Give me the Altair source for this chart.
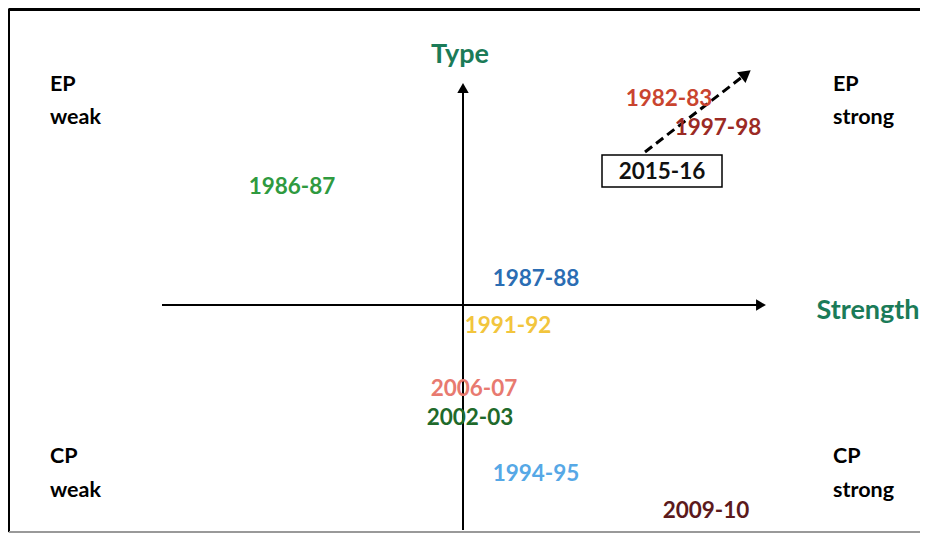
import altair as alt
import pandas as pd

# --- data (diagram coordinates: strength on x, type on y; origin at the axis crossing) ---
event_labels = ["1982-83", "1997-98", "2015-16", "1986-87", "1987-88", "1991-92",
                "2006-07", "2002-03", "1994-95", "2009-10"]
event_x = [2.06, 2.55, 1.99, -1.71, 0.73, 0.45, 0.11, 0.07, 0.73, 2.43]
event_y = [2.06, 1.77, 1.33, 1.18, 0.26, -0.21, -0.84, -1.13, -1.69, -2.06]
event_colors = ["#c9442f", "#9b2a24", "#111111", "#2f9a3f", "#2b6db3", "#f2c53d",
                "#e87a70", "#1f6a2b", "#56a8e6", "#5c1a1c"]

quad_labels = ["EP", "weak", "EP", "strong", "CP", "weak", "CP", "strong"]
quad_x = [-4.13, -4.13, 3.70, 3.70, -4.13, -4.13, 3.70, 3.70]
quad_y = [2.20, 1.87, 2.20, 1.87, -1.52, -1.86, -1.52, -1.86]

axis_titles = ["Type", "Strength"]
axis_title_x = [-0.03, 4.05]
axis_title_y = [2.50, -0.06]

# axes lines
h_axis_x = [-3.01, 2.98]
v_axis_y = [-2.25, 2.17]
# dashed trend arrow for 2015-16
trend_x = [1.82, 2.83]
trend_y = [1.53, 2.31]
# box around 2015-16
box_x = [1.39, 2.59]
box_y = [1.18, 1.50]

XD = [-4.55, 4.57]
YD = [-2.28, 2.97]
xs = alt.Scale(domain=XD, nice=False, zero=False)
ys = alt.Scale(domain=YD, nice=False, zero=False)
FONT = "Lato"

def X(f="x"):
    return alt.X(f"{f}:Q", scale=xs, axis=None)

def Y(f="y"):
    return alt.Y(f"{f}:Q", scale=ys, axis=None)

# border
border = pd.DataFrame({
    "x": [XD[0] + 0.01, -4.545, XD[0] + 0.01],
    "x2": [XD[1], -4.545, XD[1]],
    "y": [2.955, YD[0] + 0.01, -2.27],
    "y2": [2.955, 2.965, -2.27],
    "c": ["#000000", "#000000", "#999999"],
    "w": [3, 3, 2],
})
border_layer = alt.Chart(border).mark_rule().encode(
    x=X(), x2="x2:Q", y=Y(), y2="y2:Q",
    color=alt.Color("c:N", scale=None),
    strokeWidth=alt.StrokeWidth("w:Q", scale=None),
)

hdf = pd.DataFrame({"x": [h_axis_x[0]], "x2": [h_axis_x[1]], "y": [0.0]})
h_line = alt.Chart(hdf).mark_rule(color="black", strokeWidth=2).encode(x=X(), x2="x2:Q", y=Y())
vdf = pd.DataFrame({"x": [0.0], "y": [v_axis_y[0]], "y2": [v_axis_y[1]]})
v_line = alt.Chart(vdf).mark_rule(color="black", strokeWidth=2).encode(x=X(), y=Y(), y2="y2:Q")

heads = pd.DataFrame({
    "x": [h_axis_x[1], 0.0, trend_x[1]],
    "y": [0.0, v_axis_y[1], trend_y[1]],
    "a": [90, 0, 52],
    "s": [130, 130, 190],
})
head_layer = alt.Chart(heads).mark_point(shape="triangle-up", filled=True, color="black",
                                          opacity=1).encode(
    x=X(), y=Y(), angle=alt.Angle("a:Q", scale=None), size=alt.Size("s:Q", scale=None))

tdf = pd.DataFrame({"x": trend_x, "y": trend_y})
trend = alt.Chart(tdf).mark_line(color="black", strokeWidth=3, strokeDash=[9, 5]).encode(
    x=X(), y=Y())

bdf = pd.DataFrame({"x": [box_x[0]], "x2": [box_x[1]], "y": [box_y[0]], "y2": [box_y[1]]})
box = alt.Chart(bdf).mark_rect(fill="white", stroke="black", strokeWidth=1.5).encode(
    x=X(), x2="x2:Q", y=Y(), y2="y2:Q")

edf = pd.DataFrame({"x": event_x, "y": event_y, "t": event_labels, "c": event_colors})
events = alt.Chart(edf).mark_text(font=FONT, fontWeight="bold", fontSize=22.5,
                                  align="center", baseline="middle").encode(
    x=X(), y=Y(), text="t:N", color=alt.Color("c:N", scale=None))

qdf = pd.DataFrame({"x": quad_x, "y": quad_y, "t": quad_labels})
quads = alt.Chart(qdf).mark_text(font=FONT, fontWeight="bold", fontSize=21.5, color="black",
                                 align="left", baseline="middle").encode(
    x=X(), y=Y(), text="t:N")

adf = pd.DataFrame({"x": axis_title_x, "y": axis_title_y, "t": axis_titles})
atitles = alt.Chart(adf).mark_text(font=FONT, fontWeight="bold", fontSize=27, color="#1b7b58",
                                   align="center", baseline="middle").encode(
    x=X(), y=Y(), text="t:N")

chart = alt.layer(border_layer, h_line, v_line, trend, head_layer, box, events, quads, atitles).properties(
    width=912, height=525, padding=0, autosize=alt.AutoSizeParams(type="none")
).configure_view(stroke=None).configure(background="white")

chart.save("out.html", embed_options={"renderer": "svg", "actions": False})
